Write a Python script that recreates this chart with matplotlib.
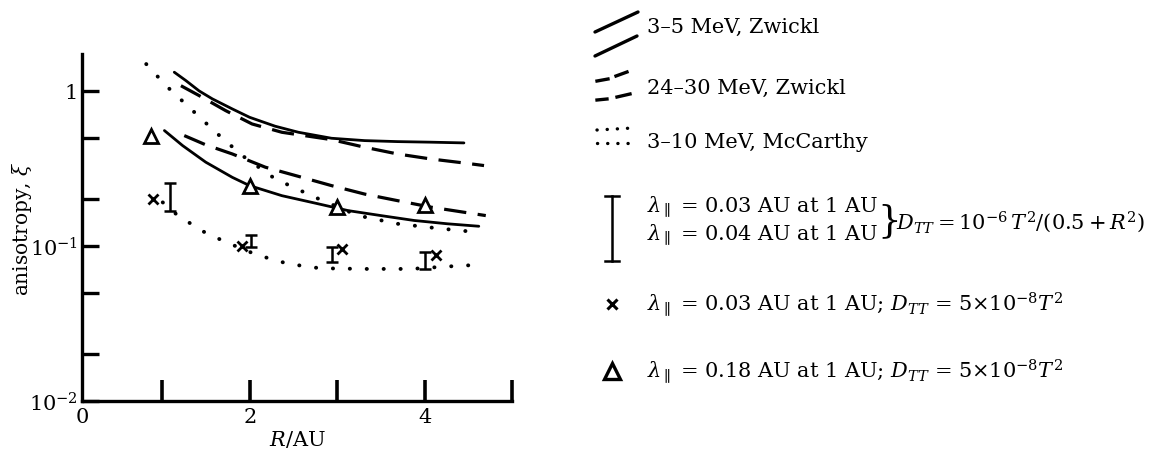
import matplotlib
matplotlib.use("Agg")
import matplotlib.pyplot as plt
from matplotlib.ticker import FixedLocator, NullFormatter

plt.rcParams['font.family'] = ['DejaVu Serif']
plt.rcParams['mathtext.fontset'] = 'dejavuserif'

# ---------------- data ----------------
zw35_upper_x = [1.136, 1.269, 1.42, 1.572, 1.80, 1.997, 2.29, 2.557, 2.935, 3.315, 3.69, 4.07, 4.45]
zw35_upper_y = [1.32, 1.165, 1.0, 0.888, 0.765, 0.676, 0.592, 0.541, 0.495, 0.478, 0.471, 0.467, 0.462]

zw2430_upper_x = [1.212, 1.42, 1.724, 2.026, 2.367, 2.935, 3.315, 3.69, 4.07, 4.45, 4.68]
zw2430_upper_y = [1.08, 0.933, 0.746, 0.612, 0.541, 0.485, 0.433, 0.392, 0.364, 0.343, 0.330]

zw35_lower_x = [1.023, 1.231, 1.496, 1.80, 1.997, 2.367, 2.746, 3.125, 3.50, 3.88, 4.26, 4.62]
zw35_lower_y = [0.555, 0.444, 0.347, 0.277, 0.245, 0.211, 0.189, 0.169, 0.157, 0.146, 0.139, 0.134]

zw2430_lower_x = [1.25, 1.496, 1.80, 2.178, 2.557, 2.935, 3.315, 3.69, 4.07, 4.45, 4.70]
zw2430_lower_y = [0.515, 0.449, 0.392, 0.322, 0.281, 0.245, 0.216, 0.196, 0.178, 0.165, 0.157]

mc_upper_x = [0.815, 1.042, 1.326, 1.61, 1.913, 2.29, 2.746, 3.24, 3.69, 4.15, 4.58]
mc_upper_y = [1.49, 1.08, 0.765, 0.541, 0.383, 0.271, 0.206, 0.157, 0.139, 0.130, 0.123]

mc_lower_x = [1.004, 1.155, 1.44, 1.724, 2.083, 2.443, 2.803, 3.315, 3.845, 4.224, 4.583]
mc_lower_y = [0.191, 0.161, 0.126, 0.106, 0.0875, 0.0766, 0.0718, 0.0711, 0.0711, 0.0735, 0.0754]

tri_x = [0.871, 1.997, 3.0, 4.01]
tri_y = [0.515, 0.245, 0.178, 0.185]

cross_x = [0.89, 1.906, 3.06, 4.13]
cross_y = [0.201, 0.100, 0.0957, 0.0875]

ibar_x = [1.087, 2.015, 2.935, 4.008]
ibar_lo = [0.169, 0.098, 0.0785, 0.0711]
ibar_hi = [0.255, 0.118, 0.098, 0.091]

xtick_pos = [1, 2, 3, 4, 5]
xtick_lab = ['', '2', '', '4', '']
ytick_major = [1.0, 0.1, 0.01]
ytick_major_lab = ['1', r'$10^{-1}$', r'$10^{-2}$']
ytick_minor = [0.5, 0.2, 0.05, 0.02]

legend_labels = ['3–5 MeV, Zwickl', '24–30 MeV, Zwickl', '3–10 MeV, McCarthy',
                 r'$\lambda_{\parallel}$ = 0.03 AU at 1 AU',
                 r'$\lambda_{\parallel}$ = 0.04 AU at 1 AU',
                 r'$D_{TT} = 10^{-6}\,T^{2}/(0.5+R^{2})$',
                 r'$\lambda_{\parallel}$ = 0.03 AU at 1 AU; $D_{TT}$ = 5$\times$10$^{-8}$$T^{2}$',
                 r'$\lambda_{\parallel}$ = 0.18 AU at 1 AU; $D_{TT}$ = 5$\times$10$^{-8}$$T^{2}$']

# ---------------- figure ----------------
W, H = 1156, 456
fig = plt.figure(figsize=(W / 100, H / 100), dpi=100)

# legend canvas in pixel coordinates
lax = fig.add_axes([0, 0, 1, 1])
lax.set_xlim(0, W)
lax.set_ylim(H, 0)
lax.axis('off')
lax.patch.set_alpha(0)

ax = fig.add_axes([82 / W, 54 / H, (512 - 82) / W, (402 - 55) / H])
ax.patch.set_alpha(0)
ax.set_yscale('log')
ax.set_xlim(0.08, 5.0)
ax.set_ylim(0.01, 1.73)

k = 'black'
solid_kw = dict(color=k, lw=2.0, solid_capstyle='round', solid_joinstyle='round')
dash_kw = dict(color=k, lw=2.3, linestyle=(0, (7, 3.6)), dash_capstyle='butt')
dot_kw = dict(color=k, lw=2.8, linestyle=(0, (0.05, 4.3)), dash_capstyle='round')

ax.plot(zw35_upper_x, zw35_upper_y, **solid_kw)
ax.plot(zw35_lower_x, zw35_lower_y, **solid_kw)
ax.plot(zw2430_upper_x, zw2430_upper_y, **dash_kw)
ax.plot(zw2430_lower_x, zw2430_lower_y, **dash_kw)
ax.plot(mc_upper_x, mc_upper_y, **dot_kw)
ax.plot(mc_lower_x, mc_lower_y, **dot_kw)

ax.plot(tri_x, tri_y, linestyle='none', marker='^', ms=10, mfc='white', mec=k, mew=2.0, zorder=5)
ax.plot(cross_x, cross_y, linestyle='none', marker='x', ms=7, mec=k, mew=2.0, zorder=5)
ymid = [(lo * hi) ** 0.5 for lo, hi in zip(ibar_lo, ibar_hi)]
yerr = [[m - lo for m, lo in zip(ymid, ibar_lo)], [hi - m for m, hi in zip(ymid, ibar_hi)]]
ax.errorbar(ibar_x, ymid, yerr=yerr, fmt='none', ecolor=k, elinewidth=1.8, capsize=4.5, capthick=1.8, zorder=5)

for s in ['top', 'right']:
    ax.spines[s].set_visible(False)
for s in ['left', 'bottom']:
    ax.spines[s].set_linewidth(2.4)

ax.xaxis.set_major_locator(FixedLocator(xtick_pos))
ax.set_xticklabels(xtick_lab)
ax.tick_params(axis='x', which='major', direction='in', length=15, width=2.6, labelsize=15, pad=4)
ax.yaxis.set_major_locator(FixedLocator(ytick_major))
ax.set_yticklabels(ytick_major_lab)
ax.yaxis.set_minor_locator(FixedLocator(ytick_minor))
ax.yaxis.set_minor_formatter(NullFormatter())
ax.tick_params(axis='y', which='both', direction='in', length=12, width=2.4, labelsize=15, pad=3)
ax.text(0.0, -0.018, '0', transform=ax.transAxes, ha='center', va='top', fontsize=15)

ax.set_xlabel(r'$R$/AU', fontsize=15, labelpad=2)
ax.set_ylabel(r'anisotropy, $\xi$', fontsize=14.5)
ax.yaxis.set_label_coords(-0.112, 0.5)

# ---------------- custom legend ----------------
fs = 15
tx = 647
# solid
lax.plot([595, 638], [33, 13], color=k, lw=2.4, solid_capstyle='round')
lax.plot([595, 637], [57, 37], color=k, lw=2.4, solid_capstyle='round')
lax.text(tx, 27, legend_labels[0], fontsize=fs, va='center', ha='left')
# dashed
lax.plot([597, 608], [82, 80], color=k, lw=2.4)
lax.plot([616, 627], [77, 73], color=k, lw=2.4)
lax.plot([597, 607], [101, 100], color=k, lw=2.4)
lax.plot([617, 630], [98, 95], color=k, lw=2.4)
lax.text(tx, 88, legend_labels[1], fontsize=fs, va='center', ha='left')
# dotted
leg_dot_kw = dict(color=k, lw=2.4, linestyle=(0, (0.05, 3.0)), dash_capstyle='round')
lax.plot([597, 633], [131, 129], **leg_dot_kw)
lax.plot([597, 633], [144, 144], **leg_dot_kw)
lax.text(tx, 143, legend_labels[2], fontsize=fs, va='center', ha='left')
# I bar
lax.plot([612, 612], [197, 262], color=k, lw=1.8)
lax.plot([605, 619], [197, 197], color=k, lw=1.8)
lax.plot([605, 619], [262, 262], color=k, lw=1.8)
lax.text(tx, 207, legend_labels[3], fontsize=fs, va='center', ha='left')
lax.text(tx, 235, legend_labels[4], fontsize=fs, va='center', ha='left')
lax.text(877, 222, r'$\}$', fontsize=27, va='center', ha='left')
lax.text(896, 222, legend_labels[5], fontsize=fs, va='center', ha='left')
# cross
lax.plot([612], [305], linestyle='none', marker='x', ms=7, mec=k, mew=2.2)
lax.text(tx, 305, legend_labels[6], fontsize=fs, va='center', ha='left')
# triangle
lax.plot([612], [372], linestyle='none', marker='^', ms=11, mfc='white', mec=k, mew=2.4)
lax.text(tx, 372, legend_labels[7], fontsize=fs, va='center', ha='left')

fig.savefig('out.png', dpi=100)
